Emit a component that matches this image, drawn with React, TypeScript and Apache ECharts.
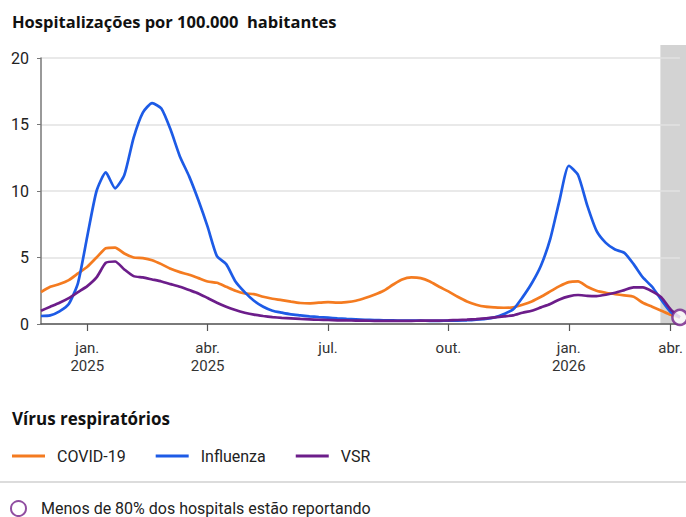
import React, { useEffect, useRef } from "react";
import * as echarts from "echarts";

// Weekly categories (week start dates), Nov 24, 2024 -> Mar 22, 2026
const weeks: string[] = Array.from({ length: 70 }, (_, i) =>
  new Date(Date.UTC(2024, 10, 24) + i * 7 * 86400000).toISOString().slice(0, 10)
);

const tickLabels: Record<string, string> = {
  "2024-12-29": "jan.\n2025",
  "2025-03-30": "abr.\n2025",
  "2025-06-29": "jul.",
  "2025-09-28": "out.",
  "2025-12-28": "jan.\n2026",
  "2026-03-15": "abr.",
};

const covid: number[] = [
  2.4, 2.8, 3.0, 3.3, 3.8, 4.3, 5.0, 5.7, 5.75, 5.3,
  5.0, 4.95, 4.8, 4.5, 4.15, 3.9, 3.7, 3.45, 3.2, 3.1,
  2.8, 2.5, 2.3, 2.25, 2.05, 1.9, 1.8, 1.68, 1.58, 1.55,
  1.6, 1.65, 1.6, 1.65, 1.75, 1.95, 2.2, 2.5, 2.95, 3.35,
  3.5, 3.45, 3.2, 2.8, 2.45, 2.05, 1.7, 1.45, 1.3, 1.25,
  1.22, 1.25, 1.45, 1.7, 2.05, 2.45, 2.85, 3.15, 3.2, 2.8,
  2.5, 2.35, 2.25, 2.15, 2.05, 1.6, 1.3, 1.0, 0.7, 0.5,
];

const influenza: number[] = [
  0.6, 0.65, 0.95, 1.5, 3.1, 6.6, 10.0, 11.4, 10.2, 11.2,
  14.0, 15.9, 16.6, 16.2, 14.6, 12.6, 11.1, 9.3, 7.3, 5.1,
  4.5, 3.2, 2.4, 1.75, 1.3, 1.0, 0.85, 0.72, 0.65, 0.58,
  0.52, 0.48, 0.42, 0.38, 0.35, 0.32, 0.3, 0.28, 0.27, 0.26,
  0.25, 0.25, 0.24, 0.24, 0.25, 0.26, 0.28, 0.32, 0.38, 0.5,
  0.75, 1.1, 2.0, 3.06, 4.4, 6.4, 9.3, 11.9, 11.2, 8.9,
  7.0, 6.1, 5.6, 5.35, 4.5, 3.5, 2.8, 1.8, 0.9, 0.5,
];

const vsr: number[] = [
  1.0, 1.3, 1.6, 1.95, 2.4, 2.85, 3.5, 4.6, 4.7, 4.1,
  3.6, 3.5, 3.35, 3.2, 3.0, 2.8, 2.55, 2.3, 1.95, 1.6,
  1.3, 1.05, 0.85, 0.7, 0.6, 0.52, 0.46, 0.42, 0.38, 0.35,
  0.32, 0.3, 0.28, 0.27, 0.26, 0.25, 0.24, 0.24, 0.24, 0.24,
  0.24, 0.25, 0.25, 0.26, 0.27, 0.3, 0.33, 0.37, 0.42, 0.5,
  0.58, 0.65, 0.85, 1.0, 1.25, 1.5, 1.85, 2.08, 2.18, 2.12,
  2.1, 2.2, 2.35, 2.55, 2.75, 2.75, 2.45, 2.0, 1.1, 0.5,
];

// Week from which fewer than 80% of hospitals are reporting
const incompleteFrom = "2026-03-08";
const lastPoint = { week: "2026-03-22", value: 0.5 };

const C_COVID = "#f47b20";
const C_FLU = "#1d5be6";
const C_VSR = "#6c1d8a";
const C_MARK = "#74228a";
const FONT = "Roboto, 'Noto Sans', sans-serif";
const TITLE_FONT = "'Open Sans', Roboto, sans-serif";

export default function App() {
  const ref = useRef<HTMLDivElement>(null);

  useEffect(() => {
    document.body.style.margin = "0";
    if (!ref.current) return;
    const chart = echarts.init(ref.current, undefined, { renderer: "svg" });
    const showTick = (_i: number, v: string) => v in tickLabels;

    const lineSeries = (name: string, data: number[], color: string) => ({
      name,
      type: "line",
      data,
      symbol: "none",
      smooth: 0.2,
      lineStyle: { color, width: 2.7 },
      itemStyle: { color },
      z: 3,
    });

    chart.setOption({
      animation: false,
      textStyle: { fontFamily: FONT },
      title: [
        {
          text: "Hospitalizações por 100.000  habitantes",
          left: 12,
          top: 13,
          padding: 0,
          textStyle: { fontSize: 16.5, fontWeight: "bold", color: "#111", fontFamily: TITLE_FONT },
        },
        {
          text: "Vírus respiratórios",
          left: 12,
          top: 410,
          padding: 0,
          textStyle: { fontSize: 17, fontWeight: "bold", color: "#111", fontFamily: TITLE_FONT },
        },
      ],
      legend: [
        {
          data: ["COVID-19", "Influenza", "VSR"],
          left: 12,
          top: 448,
          padding: 0,
          icon: "rect",
          itemWidth: 33,
          itemHeight: 3,
          itemGap: 30,
          textStyle: { fontSize: 16, color: "#222", fontFamily: FONT, padding: [0, 0, 0, 7] },
        },
        {
          data: ["Menos de 80% dos hospitals estão reportando"],
          left: 10,
          top: 500,
          padding: 0,
          itemWidth: 15,
          itemHeight: 15,
          textStyle: { fontSize: 16, color: "#222", fontFamily: FONT, padding: [0, 0, 0, 10] },
        },
      ],
      grid: { left: 41, right: 4, top: 58, bottom: 193 },
      xAxis: {
        type: "category",
        data: weeks,
        boundaryGap: false,
        axisLine: { lineStyle: { color: "#555", width: 1.5 } },
        axisTick: { interval: showTick, length: 7, lineStyle: { color: "#555", width: 1.2 } },
        axisLabel: {
          interval: showTick,
          formatter: (v: string) => tickLabels[v] ?? "",
          fontSize: 15,
          lineHeight: 18,
          color: "#333",
          margin: 15,
          fontFamily: FONT,
        },
        splitLine: { show: false },
      },
      yAxis: {
        type: "value",
        min: 0,
        max: 20,
        interval: 5,
        axisLine: { show: true, lineStyle: { color: "#777", width: 1.5 } },
        axisTick: { show: true, length: 4, lineStyle: { color: "#777" } },
        axisLabel: { fontSize: 16, color: "#222", margin: 12, fontFamily: FONT },
        splitLine: { lineStyle: { color: "#e2e2e2", width: 1.5 } },
      },
      series: [
        lineSeries("COVID-19", covid, C_COVID),
        lineSeries("Influenza", influenza, C_FLU),
        lineSeries("VSR", vsr, C_VSR),
        {
          name: "Menos de 80% dos hospitals estão reportando",
          type: "scatter",
          data: [[lastPoint.week, lastPoint.value]],
          symbol: "circle",
          symbolSize: 15,
          clip: false,
          itemStyle: { color: "#fff", borderColor: C_MARK, borderWidth: 2.5 },
          z: 5,
        },
      ],
    });

    const x0 = chart.convertToPixel({ xAxisIndex: 0 }, incompleteFrom) as number;
    const yTop = chart.convertToPixel({ yAxisIndex: 0 }, 20) as number;
    const yBottom = chart.convertToPixel({ yAxisIndex: 0 }, 0) as number;
    const W = chart.getWidth();

    chart.setOption({
      graphic: [
        {
          type: "rect",
          z: -10,
          shape: { x: x0 - 1, y: yTop - 13, width: W - x0 + 1, height: yBottom - yTop + 13 },
          style: { fill: "#d3d3d3" },
          silent: true,
        },
        {
          type: "line",
          shape: { x1: 0, y1: 482, x2: W, y2: 482 },
          style: { stroke: "#d0d0d0", lineWidth: 1.5 },
          silent: true,
        },
      ],
    });

    return () => chart.dispose();
  }, []);

  return <div ref={ref} style={{ width: 686, height: 517 }} />;
}
